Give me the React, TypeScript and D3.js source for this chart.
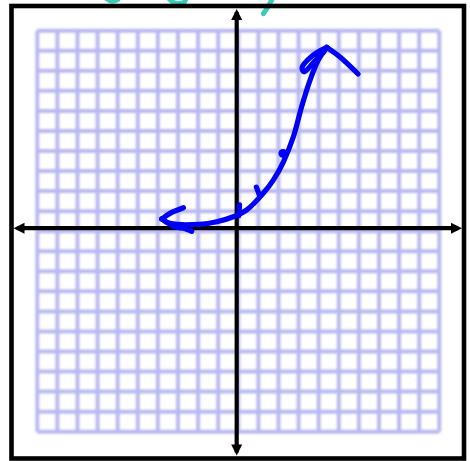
import React from "react";
import * as d3 from "d3";

// Graph-paper extent (one unit per cell)
const gridMin = -10;
const gridMax = 10;

// Hand-drawn growth curve, traced left to right (x, y in grid units)
const curveX = [-3.81, -3.4, -1.91, -1.07, -0.25, 0.42, 1.24, 1.74, 2.24, 2.74, 3.15, 3.57, 3.98, 4.4];
const curveY = [0.61, 0.39, 0.34, 0.47, 0.72, 1.06, 1.89, 2.55, 3.45, 4.71, 6.21, 7.54, 8.54, 9.17];

// Arrowhead strokes at the left end of the curve
const leftUpperX = [-3.81, -3.4, -2.73];
const leftUpperY = [0.61, 0.89, 1.17];
const leftLowerX = [-3.81, -3.17, -2.75, -2.32];
const leftLowerY = [0.61, 0.22, 0.16, -0.01];

// Arrowhead at the top: a loop on the left and a stroke on the right
const topLoopX = [4.4, 3.67, 3.17, 3.27, 3.77, 4.26];
const topLoopY = [9.17, 8.74, 8.15, 7.95, 8.45, 8.95];
const topRightX = [4.4, 5.06, 5.96];
const topRightY = [9.17, 8.69, 7.84];

// Small marks along the curve
const tickMarks = [
  { x: [0.03, 0.06], y: [0.76, 1.31] },
  { x: [1.05, 0.9], y: [1.8, 2.2] },
];
const dotX = [2.22];
const dotY = [3.88];

// Fragments of the teal handwriting along the top edge
const tealStrokes = [
  { x: [-6.55, -6.3, -6.0], y: [11.6, 11.48, 11.55] },
  { x: [-3.45, -3.15, -2.7, -2.6], y: [11.6, 11.38, 11.42, 11.6] },
  { x: [1.7, 1.45, 1.25], y: [11.6, 11.15, 10.85] },
];

const W = 470;
const H = 461;

export default function App() {
  const x = d3.scaleLinear().domain([gridMin, gridMax]).range([37.3, 439.3]);
  const y = d3.scaleLinear().domain([gridMin, gridMax]).range([431.7, 30.7]);
  const ticks = d3.range(gridMin, gridMax + 1);

  const line = d3
    .line<[number, number]>()
    .x((d) => x(d[0]))
    .y((d) => y(d[1]))
    .curve(d3.curveCatmullRom.alpha(0.5));
  const pts = (xs: number[], ys: number[]) => xs.map((v, i) => [v, ys[i]] as [number, number]);

  // Axes sit slightly off the centre grid line, as drawn
  const ax = x(0) - 1.6;
  const ay = y(0) - 3;
  const border = { x0: 11.5, y0: 6, x1: 464, y1: 458.5 };
  const ah = 11;
  const aw = 5.5;

  const blue = "#0000f8";
  const teal = "#3ccbb8";

  return (
    <svg width={W} height={H} style={{ position: "absolute", left: 0, top: 0 }}>
      <defs>
        <filter id="soft" x="-5%" y="-5%" width="110%" height="110%">
          <feGaussianBlur stdDeviation="0.8" />
        </filter>
      </defs>
      <rect x={0} y={0} width={W} height={H} fill="#fff" />

      {/* graph paper */}
      <g filter="url(#soft)" stroke="#b9b9f1" strokeWidth={4}>
        {ticks.map((t) => (
          <line key={"v" + t} x1={x(t)} x2={x(t)} y1={y(gridMin)} y2={y(gridMax)} />
        ))}
        {ticks.map((t) => (
          <line key={"h" + t} y1={y(t)} y2={y(t)} x1={x(gridMin)} x2={x(gridMax)} />
        ))}
      </g>

      {/* teal handwriting fragments */}
      <g fill="none" stroke={teal} strokeWidth={5} strokeLinecap="round">
        {tealStrokes.map((s, i) => (
          <path key={i} d={line(pts(s.x, s.y)) || ""} />
        ))}
      </g>

      {/* frame */}
      <rect
        x={border.x0}
        y={border.y0}
        width={border.x1 - border.x0}
        height={border.y1 - border.y0}
        fill="none"
        stroke="#000"
        strokeWidth={4.6}
      />

      {/* axes */}
      <g stroke="#000" strokeWidth={4.2}>
        <line x1={ax} x2={ax} y1={border.y0 + 6} y2={border.y1 - 6} />
        <line y1={ay} y2={ay} x1={border.x0 + 6} x2={border.x1 - 6} />
      </g>
      <g fill="#000">
        <path d={`M${ax},${border.y0 + 3}L${ax - aw},${border.y0 + 3 + ah}L${ax + aw},${border.y0 + 3 + ah}Z`} />
        <path d={`M${ax},${border.y1 - 3}L${ax - aw},${border.y1 - 3 - ah}L${ax + aw},${border.y1 - 3 - ah}Z`} />
        <path d={`M${border.x0 + 2},${ay}L${border.x0 + 2 + ah},${ay - aw}L${border.x0 + 2 + ah},${ay + aw}Z`} />
        <path d={`M${border.x1 - 2},${ay}L${border.x1 - 2 - ah},${ay - aw}L${border.x1 - 2 - ah},${ay + aw}Z`} />
      </g>

      {/* hand-drawn curve */}
      <g fill="none" stroke={blue} strokeWidth={5.2} strokeLinecap="round" strokeLinejoin="round">
        <path d={line(pts(curveX, curveY)) || ""} />
        <path d={line(pts(leftUpperX, leftUpperY)) || ""} />
        <path d={line(pts(leftLowerX, leftLowerY)) || ""} />
        <path d={line(pts(topLoopX, topLoopY)) || ""} />
        <path d={line(pts(topRightX, topRightY)) || ""} />
        {tickMarks.map((m, i) => (
          <path key={i} d={line(pts(m.x, m.y)) || ""} />
        ))}
      </g>
      {dotX.map((d, i) => (
        <circle key={i} cx={x(d)} cy={y(dotY[i])} r={4.5} fill={blue} />
      ))}
    </svg>
  );
}
